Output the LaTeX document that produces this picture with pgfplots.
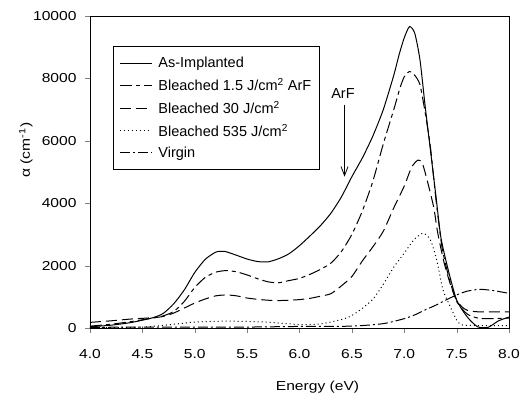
\documentclass[border=0pt]{standalone}
\usepackage{fontspec}
\setmainfont{Liberation Sans}
\newfontfamily\widefont{Liberation Sans}[FakeStretch=1.2]
\usepackage{pgfplots}
\pgfplotsset{compat=1.18}
\usetikzlibrary{arrows.meta}
\begin{document}
\begin{tikzpicture}
\begin{axis}[
  at={(0,0)}, anchor=south west,
  scale only axis, width=419pt, height=312pt,
  xmin=4, xmax=8, ymin=0, ymax=10000,
  xtick={4,4.5,...,8}, ytick={0,2000,...,10000},
  tick pos=left, tick align=outside, major tick length=5pt,
  /pgf/number format/assume math mode=true,
  xticklabel style={font=\widefont\fontsize{13}{15}\selectfont, /pgf/number format/.cd, fixed, fixed zerofill, precision=1, /tikz/.cd, yshift=-13pt},
  yticklabel style={font=\widefont\fontsize{13}{15}\selectfont, /pgf/number format/.cd, 1000 sep={}, /tikz/.cd, xshift=-5pt},
  scaled y ticks=false,
  xlabel={Energy (eV)},
  xlabel style={font=\widefont\fontsize{13}{15}\selectfont, at={(axis description cs:0.543,-0.199)}, anchor=base},
  ylabel={α (cm\textsuperscript{-1})},
  ylabel style={font=\widefont\fontsize{13}{15}\selectfont, at={(axis description cs:-0.153,0.57)}, anchor=center},
  axis line style={line width=0.8pt},
  legend style={at={(rel axis cs:0.055,0.904)}, anchor=north west, draw=black, line width=0.8pt,
    font=\fontsize{14.5}{16}\selectfont, row sep=5pt, inner xsep=6pt, inner ysep=9pt, cells={anchor=west}},
  legend cell align=left,
  legend image code/.code={\draw[#1] (0pt,0pt) -- (32pt,0pt); \path (36pt,0pt);},
]
\addplot[black, line width=1pt, smooth, tension=0.4] coordinates {
(4.0,40)(4.2,90)(4.4,180)(4.6,330)(4.7,470)(4.8,780)(4.9,1220)(5.0,1780)(5.1,2200)(5.2,2430)(5.28,2460)(5.4,2330)(5.5,2210)(5.6,2130)(5.7,2120)(5.8,2220)(5.9,2380)(6.0,2640)(6.1,2950)(6.2,3280)(6.3,3680)(6.4,4200)(6.5,4850)(6.6,5450)(6.7,6150)(6.8,7000)(6.9,8100)(6.95,8750)(7.0,9300)(7.05,9660)(7.1,9450)(7.15,8600)(7.2,7100)(7.25,5700)(7.3,4300)(7.35,2900)(7.42,1860)(7.5,900)(7.6,360)(7.7,40)(7.8,20)(7.9,230)(8.0,350)
};
\addlegendentry{As-Implanted}
\addplot[black, line width=1pt, smooth, tension=0.4, dash pattern=on 12pt off 4pt on 4pt off 4pt] coordinates {
(4.0,60)(4.2,120)(4.4,210)(4.6,320)(4.7,390)(4.8,530)(4.9,850)(5.0,1300)(5.1,1620)(5.2,1790)(5.3,1840)(5.4,1800)(5.5,1700)(5.6,1580)(5.7,1480)(5.8,1450)(5.9,1520)(6.0,1590)(6.1,1720)(6.2,1880)(6.3,2080)(6.4,2450)(6.5,3000)(6.6,3750)(6.7,4700)(6.8,5900)(6.9,7000)(6.96,7700)(7.0,8050)(7.05,8220)(7.1,8100)(7.15,7800)(7.2,6900)(7.25,5800)(7.3,4200)(7.36,2600)(7.42,1700)(7.5,850)(7.6,450)(7.7,320)(7.8,300)(8.0,320)
};
\addlegendentry{Bleached 1.5 J/cm\textsuperscript{2} ArF}
\addplot[black, line width=1pt, smooth, tension=0.4, dash pattern=on 11pt off 5pt] coordinates {
(4.0,180)(4.2,230)(4.4,290)(4.6,330)(4.7,370)(4.8,480)(4.9,640)(5.0,800)(5.1,930)(5.2,1030)(5.3,1060)(5.4,1030)(5.5,960)(5.6,920)(5.7,890)(5.8,880)(5.9,890)(6.0,910)(6.1,950)(6.2,1020)(6.3,1100)(6.4,1350)(6.5,1650)(6.6,2150)(6.7,2600)(6.8,3100)(6.9,3850)(7.0,4550)(7.07,5150)(7.13,5380)(7.17,5300)(7.21,4850)(7.28,3890)(7.32,3040)(7.38,2100)(7.45,1300)(7.5,900)(7.55,680)(7.6,570)(7.7,520)(8.0,520)
};
\addlegendentry{Bleached 30 J/cm\textsuperscript{2}}
\addplot[black, line width=1pt, smooth, tension=0.4, dash pattern=on 1pt off 3pt] coordinates {
(4.0,10)(4.5,30)(4.8,120)(5.0,190)(5.3,220)(5.6,200)(5.8,160)(6.0,110)(6.2,130)(6.4,270)(6.5,400)(6.6,630)(6.7,920)(6.8,1400)(6.9,1950)(7.0,2400)(7.09,2820)(7.18,3040)(7.25,2820)(7.31,2180)(7.37,1220)(7.44,680)(7.5,260)(7.55,100)(7.7,80)(8.0,80)
};
\addlegendentry{Bleached 535 J/cm\textsuperscript{2}}
\addplot[black, line width=1pt, smooth, tension=0.4, dash pattern=on 10pt off 3pt on 2pt off 3pt] coordinates {
(4.0,20)(4.5,30)(5.0,30)(5.5,30)(6.0,50)(6.5,60)(6.8,140)(7.0,300)(7.1,420)(7.2,580)(7.3,730)(7.4,900)(7.5,1060)(7.6,1180)(7.72,1240)(7.85,1200)(8.0,1110)
};
\addlegendentry{Virgin}
\node[font=\fontsize{14.5}{16}\selectfont] at (axis cs:6.415,7500) {ArF};
\draw[line width=0.8pt, -{Straight Barb[length=9pt,width=7pt]}] (axis cs:6.43,7150) -- (axis cs:6.43,4850);
\end{axis}
\pgfresetboundingbox
\path (-90pt,-66pt) rectangle (432pt,328pt);
\end{tikzpicture}
\end{document}
